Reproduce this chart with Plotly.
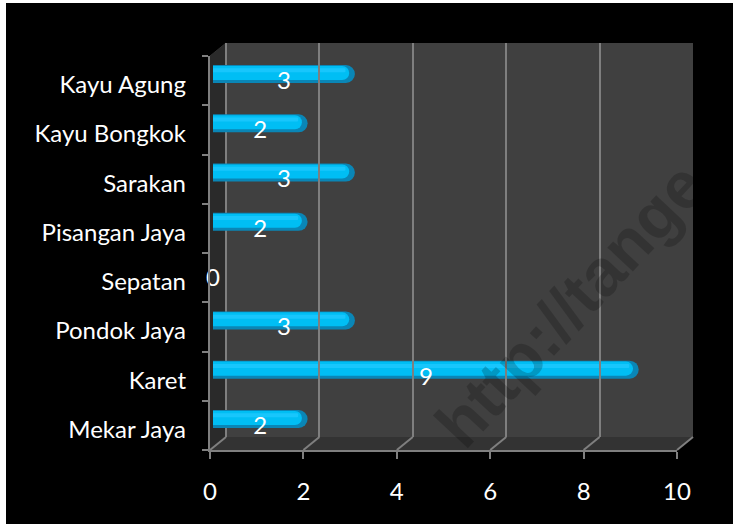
import plotly.graph_objects as go

# ---------------- data ----------------
categories = ["Mekar Jaya", "Karet", "Pondok Jaya", "Sepatan",
              "Pisangan Jaya", "Sarakan", "Kayu Bongkok", "Kayu Agung"]
values = [2, 9, 3, 0, 2, 3, 2, 3]
x_ticks = [0, 2, 4, 6, 8, 10]
watermark = "http://tange"

W, H = 735, 524
def fx(p): return p / W
def fy(p): return 1 - p / H

FONT = "Lato"
GRID = "#7f7f7f"

# geometry (pixels)
FRONT_L, FRONT_R, FRONT_T, FRONT_B = 210, 677, 56, 450
BACK_L, BACK_R, BACK_T, BACK_B = 226, 693, 43, 437
LABEL_SHIFT = 4
BAR_X0, BAR_PX_PER_UNIT = 213, 47.3
BAR_TOP_C, BAR_BOT_C = 74, 419
n = len(categories)
slot = (BAR_BOT_C - BAR_TOP_C) / (n - 1)
bar_dom_y = [fy(BAR_BOT_C + slot / 2), fy(BAR_TOP_C - slot / 2)]
bar_dom_x = [fx(BAR_X0), fx(BAR_X0 + BAR_PX_PER_UNIT * 10)]
bar_w = 18 / slot

idx = list(range(n))

fig = go.Figure()

# bars (layered to give a cylinder look)
fig.add_trace(go.Bar(
    x=values, y=idx, orientation="h", width=bar_w,
    marker=dict(color="#0a86b6", cornerradius=9, line_width=0),
    hoverinfo="skip", xaxis="x", yaxis="y"))
fig.add_trace(go.Bar(
    x=[max(v - 0.12, 0) for v in values], y=idx, orientation="h",
    width=bar_w * 0.78, offset=-bar_w * 0.5 + bar_w * 0.17,
    marker=dict(color="#00bef4", cornerradius=7, line_width=0),
    hoverinfo="skip", xaxis="x", yaxis="y"))
fig.add_trace(go.Bar(
    x=[max(v - 0.2, 0) for v in values], y=idx, orientation="h",
    width=bar_w * 0.22, offset=bar_w * 0.5 - bar_w * 0.40,
    marker=dict(color="#18c6fc", cornerradius=2, line_width=0),
    hoverinfo="skip", xaxis="x", yaxis="y"))
# value labels
fig.add_trace(go.Scatter(
    x=[v / 2 for v in values], y=[i - 0.18 for i in idx], mode="text",
    text=[str(v) for v in values], cliponaxis=False,
    textfont=dict(color="white", size=24, family=FONT),
    hoverinfo="skip", xaxis="x", yaxis="y"))

# front frame axes (ticks) and category labels
fig.add_trace(go.Scatter(
    x=[0] * n, y=categories, mode="markers", marker=dict(opacity=0),
    hoverinfo="skip", xaxis="x2", yaxis="y2"))
fig.add_trace(go.Scatter(
    x=[0] * n, y=categories, mode="markers", marker=dict(opacity=0),
    hoverinfo="skip", xaxis="x2", yaxis="y4"))
# back wall grid axes
fig.add_trace(go.Scatter(
    x=[0], y=[0], mode="markers", marker=dict(opacity=0),
    hoverinfo="skip", xaxis="x3", yaxis="y3"))

shapes = [
    # black background panel
    dict(type="rect", xref="paper", yref="paper", x0=fx(6), x1=fx(733),
         y0=0, y1=fy(3), fillcolor="black", line_width=0, layer="below"),
    # back wall
    dict(type="rect", xref="paper", yref="paper", x0=fx(BACK_L), x1=fx(BACK_R),
         y0=fy(BACK_B), y1=fy(BACK_T), fillcolor="#404040", line_width=0,
         layer="below"),
    # side wall
    dict(type="path", xref="paper", yref="paper",
         path=f"M {fx(FRONT_L)},{fy(FRONT_T)} L {fx(BACK_L)},{fy(BACK_T)} "
              f"L {fx(BACK_L)},{fy(BACK_B)} L {fx(FRONT_L)},{fy(FRONT_B)} Z",
         fillcolor="#2a2a2a", line_width=0, layer="below"),
    # floor
    dict(type="path", xref="paper", yref="paper",
         path=f"M {fx(FRONT_L)},{fy(FRONT_B)} L {fx(BACK_L)},{fy(BACK_B)} "
              f"L {fx(BACK_R)},{fy(BACK_B)} L {fx(FRONT_R)},{fy(FRONT_B)} Z",
         fillcolor="#333333", line_width=0, layer="below"),
    # side wall top edge
    dict(type="line", xref="paper", yref="paper",
         x0=fx(FRONT_L), y0=fy(FRONT_T), x1=fx(BACK_L), y1=fy(BACK_T),
         line=dict(color="#303030", width=1), layer="below"),
]
# floor diagonals from front ticks to back gridlines
for t in x_ticks:
    xf = FRONT_L + (FRONT_R - FRONT_L) * t / 10
    xb = BACK_L + (BACK_R - BACK_L) * t / 10
    shapes.append(dict(type="line", xref="paper", yref="paper",
                       x0=fx(xf), y0=fy(FRONT_B), x1=fx(xb), y1=fy(BACK_B),
                       line=dict(color=GRID, width=2)))
# back wall edge line
shapes.append(dict(type="line", xref="paper", yref="paper",
                   x0=fx(BACK_L), y0=fy(BACK_B), x1=fx(BACK_L), y1=fy(BACK_T),
                   line=dict(color=GRID, width=2), layer="below"))

fig.update_layout(
    width=W, height=H, autosize=False,
    margin=dict(l=0, r=0, t=0, b=0, pad=0, autoexpand=False),
    paper_bgcolor="white", plot_bgcolor="rgba(0,0,0,0)",
    barmode="overlay", showlegend=False,
    font=dict(family=FONT, color="white"),
    xaxis=dict(domain=bar_dom_x, range=[0, 10], visible=False, anchor="y",
               automargin=False),
    yaxis=dict(domain=bar_dom_y, range=[-0.5, n - 0.5], visible=False,
               anchor="x", automargin=False),
    xaxis2=dict(domain=[fx(FRONT_L), fx(FRONT_R)], range=[0, 10],
                tickvals=x_ticks, anchor="y2", showgrid=False, zeroline=False,
                showline=True, linecolor=GRID, linewidth=2, automargin=False,
                ticks="outside", ticklen=7, tickwidth=2, tickcolor=GRID,
                tickfont=dict(size=24, color="white", family=FONT),
                ticklabelstandoff=12),
    yaxis2=dict(domain=[fy(FRONT_B), fy(FRONT_T)], type="category",
                categoryarray=categories, categoryorder="array",
                range=[-0.5, n - 0.5], anchor="x2", showgrid=False,
                showline=True, linecolor=GRID, linewidth=2, automargin=False,
                ticks="outside", tickson="boundaries", ticklen=6, tickwidth=2,
                tickcolor=GRID, showticklabels=False),
    yaxis4=dict(domain=[fy(FRONT_B + LABEL_SHIFT), fy(FRONT_T + LABEL_SHIFT)],
                type="category", categoryarray=categories,
                categoryorder="array", range=[-0.5, n - 0.5],
                anchor="free", position=fx(FRONT_L), showgrid=False,
                showline=False, zeroline=False, ticks="", automargin=False,
                tickfont=dict(size=24, color="white", family=FONT),
                ticklabelstandoff=24),
    xaxis3=dict(domain=[fx(BACK_L), fx(BACK_R)], range=[0, 10], dtick=2,
                anchor="y3", showgrid=True, gridcolor=GRID, gridwidth=2,
                zeroline=False, showticklabels=False, ticks="",
                automargin=False),
    yaxis3=dict(domain=[fy(BACK_B), fy(BACK_T)], range=[0, 1], anchor="x3",
                showgrid=False, zeroline=False, showticklabels=False, ticks="",
                automargin=False),
    shapes=shapes,
    annotations=[dict(
        xref="paper", yref="paper", x=fx(570), y=fy(305),
        xanchor="center", yanchor="middle",
        text=f"<b>{watermark}</b>", showarrow=False, textangle=-47,
        font=dict(family="Liberation Sans", size=66, color="rgba(0,0,0,0.2)"))],
)

fig.write_html("out.html")
